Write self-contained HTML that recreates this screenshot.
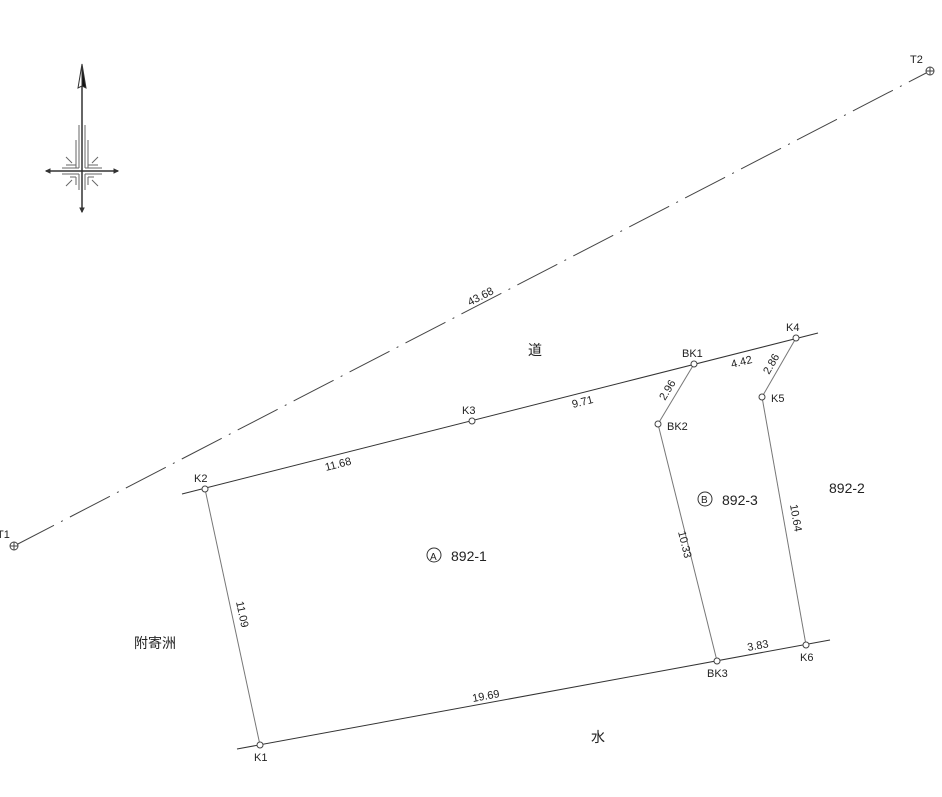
<!DOCTYPE html>
<html><head><meta charset="utf-8"><style>
html,body{margin:0;padding:0;background:#fff;}
svg{display:block;}
text{font-family:"Liberation Sans","Noto Sans CJK JP",sans-serif;fill:#222;}
</style></head><body>
<svg width="942" height="797" viewBox="0 0 942 797" xmlns="http://www.w3.org/2000/svg">
<!-- north arrow -->
<g stroke="#333" fill="none">
<line x1="82" y1="70" x2="82" y2="212" stroke-width="1.5"/>
<line x1="46" y1="171" x2="118" y2="171" stroke-width="1.5"/>
<path d="M82 64 L78 88 L82 86 Z" fill="#fff" stroke-width="1"/>
<path d="M82 64 L86 88 L82 86 Z" fill="#111" stroke-width="1"/>
<path d="M46 171 l4 -2 v4z" fill="#333"/><path d="M118 171 l-4 -2 v4z" fill="#333"/>
<path d="M82 212 l-2 -4 h4z" fill="#333"/>
<g stroke="#666" stroke-width="1">
<line x1="79" y1="125" x2="79" y2="168"/><line x1="85" y1="125" x2="85" y2="168"/>
<line x1="76" y1="140" x2="76" y2="168"/><line x1="88" y1="140" x2="88" y2="168"/>
<line x1="62" y1="168" x2="79" y2="168"/><line x1="85" y1="168" x2="102" y2="168"/>
<line x1="66" y1="165" x2="76" y2="165"/><line x1="88" y1="165" x2="98" y2="165"/>
<line x1="62" y1="174" x2="79" y2="174"/><line x1="85" y1="174" x2="102" y2="174"/>
<line x1="79" y1="174" x2="79" y2="190"/><line x1="85" y1="174" x2="85" y2="190"/>
<line x1="70" y1="177" x2="76" y2="177"/><line x1="76" y1="177" x2="76" y2="185"/>
<line x1="88" y1="177" x2="94" y2="177"/><line x1="88" y1="177" x2="88" y2="185"/>
<line x1="66" y1="157" x2="72" y2="163"/><line x1="98" y1="157" x2="92" y2="163"/>
<line x1="66" y1="186" x2="72" y2="180"/><line x1="98" y1="186" x2="92" y2="180"/>
</g>
</g>
<!-- dash-dot baseline -->
<line x1="14" y1="546" x2="930" y2="71" stroke="#444" stroke-width="1" stroke-dasharray="45 8 2 8"/>
<g stroke="#444" fill="#fff" stroke-width="1">
<circle cx="14" cy="546" r="4"/><line x1="10" y1="546" x2="18" y2="546"/><line x1="14" y1="542" x2="14" y2="550"/>
<circle cx="930" cy="71" r="4"/><line x1="926" y1="71" x2="934" y2="71"/><line x1="930" y1="67" x2="930" y2="75"/>
</g>
<text x="-3" y="538" font-size="11">T1</text>
<text x="910" y="63" font-size="11">T2</text>
<text x="470" y="306" font-size="11" transform="rotate(-27.4 470 306)">43.68</text>
<!-- parcel lines -->
<g stroke="#333" stroke-width="1" fill="none">
<line x1="182" y1="494" x2="818" y2="333"/>
<line x1="237" y1="749" x2="830" y2="640"/>
</g>
<g stroke="#777" stroke-width="1" fill="none">
<line x1="205" y1="489" x2="260" y2="745"/>
<line x1="694" y1="364" x2="658" y2="424"/>
<line x1="658" y1="424" x2="717" y2="661"/>
<line x1="796" y1="338" x2="762" y2="397"/>
<line x1="762" y1="397" x2="806" y2="645"/>
</g>
<g stroke="#444" fill="#fff" stroke-width="1">
<circle cx="205" cy="489" r="3"/><circle cx="472" cy="421" r="3"/><circle cx="694" cy="364" r="3"/>
<circle cx="796" cy="338" r="3"/><circle cx="658" cy="424" r="3"/><circle cx="762" cy="397" r="3"/>
<circle cx="260" cy="745" r="3"/><circle cx="717" cy="661" r="3"/><circle cx="806" cy="645" r="3"/>
</g>
<g font-size="11">
<text x="194" y="482">K2</text>
<text x="462" y="414">K3</text>
<text x="682" y="357">BK1</text>
<text x="786" y="331">K4</text>
<text x="667" y="430">BK2</text>
<text x="771" y="402">K5</text>
<text x="254" y="761">K1</text>
<text x="707" y="677">BK3</text>
<text x="800" y="661">K6</text>
<text x="326" y="471" transform="rotate(-14.3 326 471)">11.68</text>
<text x="573" y="408" transform="rotate(-14.3 573 408)">9.71</text>
<text x="732" y="368" transform="rotate(-14.3 732 368)">4.42</text>
<text x="473" y="702" transform="rotate(-10.4 473 702)">19.69</text>
<text x="748" y="651" transform="rotate(-10.4 748 651)">3.83</text>
<text x="236" y="602" transform="rotate(78 236 602)">11.09</text>
<text x="678" y="532" transform="rotate(76 678 532)">10.33</text>
<text x="790" y="505" transform="rotate(80 790 505)">10.64</text>
<text x="665" y="401" transform="rotate(-59 665 401)">2.96</text>
<text x="769" y="375" transform="rotate(-60 769 375)">2.86</text>
</g>
<g font-size="14">
<text x="528" y="355">道</text>
<text x="591" y="742">水</text>
<text x="134" y="648">附寄洲</text>
<circle cx="434" cy="555" r="7" stroke="#333" fill="none"/>
<text x="430" y="560" font-size="10">A</text>
<text x="451" y="561">892-1</text>
<circle cx="705" cy="499" r="7" stroke="#333" fill="none"/>
<text x="701" y="503" font-size="10">B</text>
<text x="722" y="505">892-3</text>
<text x="829" y="493">892-2</text>
</g>
</svg>
</body></html>
